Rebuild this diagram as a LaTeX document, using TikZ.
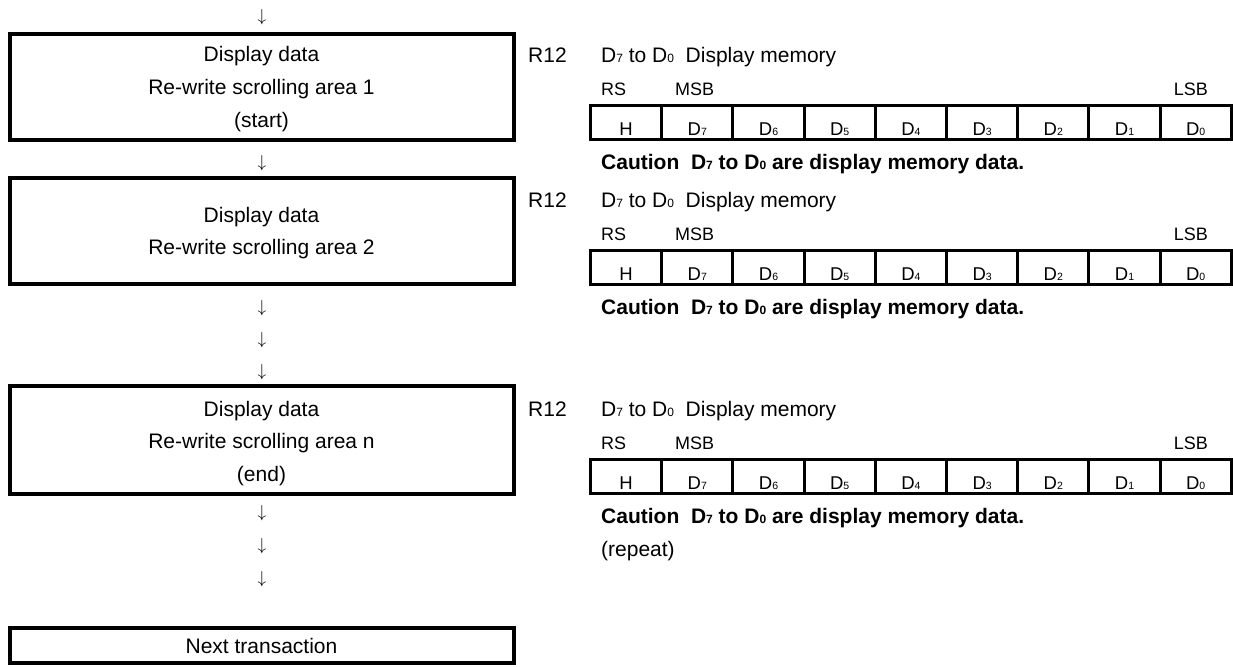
\documentclass[tikz,border=0pt]{standalone}
\usepackage{fontspec}
\setmainfont{Liberation Sans}
\newcommand\Dsub[1]{D{\fontsize{10.5}{10.5}\selectfont #1}}
\newcommand\Dbig[1]{D{\fontsize{12}{12}\selectfont #1}}
\newcommand\regblock[2]{%
  \node[mtext] (#2r) at (528,#1-43) {R12};
  \node[mtext] (#2d) at (601,#1-43) {\Dbig7 to \Dbig0\ \ Display memory};
  \node[rtext] (#2rs) at (601,#1-10) {RS};
  \node[rtext] (#2msb) at (675,#1-10) {MSB};
  \node[rtext, anchor=base east] (#2lsb) at (1208,#1-10) {LSB};
  \foreach \ci/\lbl in {0/H,1/\Dsub7,2/\Dsub6,3/\Dsub5,4/\Dsub4,5/\Dsub3,6/\Dsub2,7/\Dsub1,8/\Dsub0}
    \node[cell] (#2c\ci) at ({626.1+71.2*\ci},#1+17) {\lbl};
  \node[caution] (#2cau) at (601,#1+64) {Caution\ \ \Dbig7 to \Dbig0 are display memory data.};
}
\begin{document}
\begin{tikzpicture}[x=1pt,y=-1pt,
  flowbox/.style={draw, line width=4pt, minimum width=504pt, inner sep=0pt, outer sep=0pt},
  boxtext/.style={font=\fontsize{21}{21}\selectfont, anchor=base, inner sep=0pt},
  dnarrow/.style={font=\fontsize{19}{19}\selectfont, inner sep=0pt},
  mtext/.style={font=\fontsize{21}{21}\selectfont, anchor=base west, inner sep=0pt},
  rtext/.style={font=\fontsize{18}{18}\selectfont, anchor=base west, inner sep=0pt},
  caution/.style={font=\fontsize{21}{21}\selectfont\bfseries, anchor=base west, inner sep=0pt},
  cell/.style={draw, line width=3pt, minimum width=71.2pt, minimum height=34pt, inner sep=0pt, text height=25pt, text depth=0pt, font=\fontsize{18.5}{18.5}\selectfont},
]
\useasboundingbox (0,0) rectangle (1233,666);
\fill[white] (0,0) rectangle (1233,666);

% left column: boxes
\node[flowbox, minimum height=106.3pt] (b1) at (261.5,86.85) {};
\node[flowbox, minimum height=106.5pt] (b2) at (261.5,230.75) {};
\node[flowbox, minimum height=108pt] (b3) at (261.5,440) {};
\node[flowbox, minimum height=35pt] (b4) at (261.5,645) {};

\node[boxtext] (b1a) at (261.5,62) {Display data};
\node[boxtext] (b1b) at (261.5,95) {Re-write scrolling area 1};
\node[boxtext] (b1c) at (261.5,128) {(start)};

\node[boxtext] (b2a) at (261.5,222.5) {Display data};
\node[boxtext] (b2b) at (261.5,254) {Re-write scrolling area 2};

\node[boxtext] (b3a) at (261.5,416) {Display data};
\node[boxtext] (b3b) at (261.5,448.5) {Re-write scrolling area n};
\node[boxtext] (b3c) at (261.5,481) {(end)};

\node[boxtext] (b4a) at (261.5,653) {Next transaction};

% arrows (printed as characters)
\node[dnarrow] (a0) at (262,17) {$\downarrow$};
\node[dnarrow] (a1) at (262,163.5) {$\downarrow$};
\node[dnarrow] (a2) at (262,308) {$\downarrow$};
\node[dnarrow] (a3) at (262,340) {$\downarrow$};
\node[dnarrow] (a4) at (262,372) {$\downarrow$};
\node[dnarrow] (a5) at (262,513) {$\downarrow$};
\node[dnarrow] (a6) at (262,546) {$\downarrow$};
\node[dnarrow] (a7) at (262,579) {$\downarrow$};

% right column: register blocks
\regblock{105.7}{g1}
\regblock{250.5}{g2}
\regblock{459.5}{g3}
\node[mtext] (rep) at (601,556.5) {(repeat)};
\end{tikzpicture}
\end{document}
